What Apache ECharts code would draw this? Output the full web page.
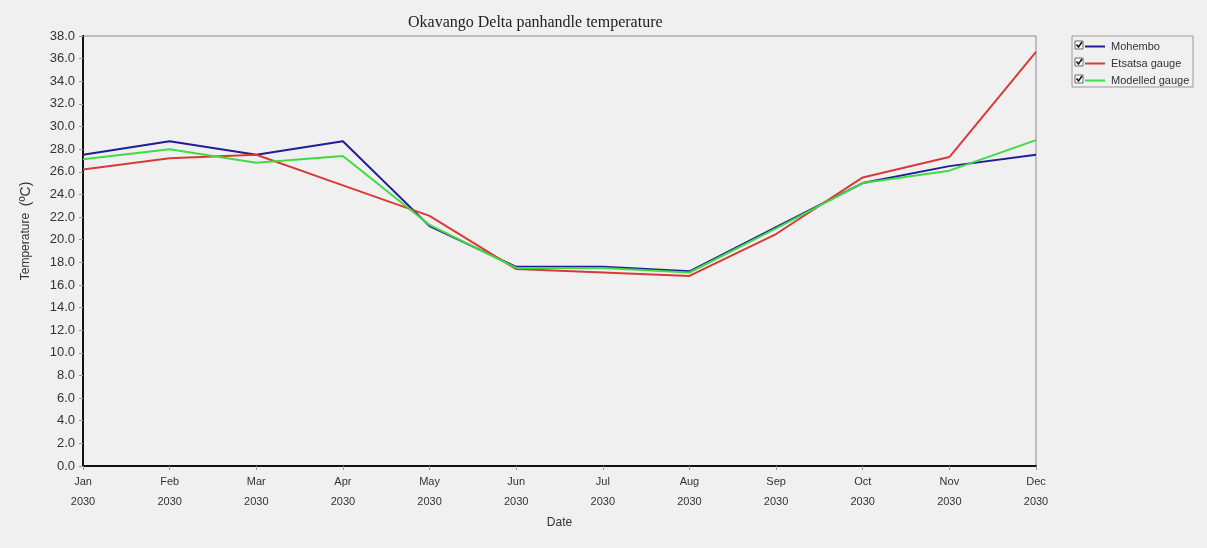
<!DOCTYPE html>
<html>
<head>
<meta charset="utf-8">
<script src="https://cdn.jsdelivr.net/npm/echarts@6/dist/echarts.min.js"></script>
<style>
  html, body { margin: 0; padding: 0; background: #f0f0f0; }
  #chart { width: 1207px; height: 548px; }
</style>
</head>
<body>
<div id="chart"></div>
<script>
// Monthly mean temperatures for the Okavango Delta panhandle, 2030
const months = ['Jan', 'Feb', 'Mar', 'Apr', 'May', 'Jun', 'Jul', 'Aug', 'Sep', 'Oct', 'Nov', 'Dec'];
const year = '2030';
const mohembo  = [27.5, 28.7, 27.5, 28.7, 21.2, 17.6, 17.6, 17.2, 21.1, 25.0, 26.5, 27.5];
const etsatsa  = [26.2, 27.2, 27.5, 24.8, 22.1, 17.4, 17.1, 16.8, 20.5, 25.5, 27.3, 36.6];
const modelled = [27.1, 28.0, 26.8, 27.4, 21.3, 17.5, 17.5, 17.1, 21.0, 25.0, 26.1, 28.8];

const seriesNames = ['Mohembo', 'Etsatsa gauge', 'Modelled gauge'];
const seriesColors = ['#1e1e96', '#d83a3a', '#40dc40'];

const chart = echarts.init(document.getElementById('chart'));

const labelFont = 'Liberation Sans, Arial, sans-serif';

// Small ticked check boxes beside each legend entry
const legendTop = 38;
const rowH = 17;
const checkBoxes = [];
seriesNames.forEach((n, i) => {
  const cy = legendTop + 7 + i * rowH;
  checkBoxes.push({
    type: 'rect',
    shape: { x: 1075, y: cy - 4, width: 8, height: 8 },
    style: { fill: '#ffffff', stroke: '#666', lineWidth: 1 }
  });
  checkBoxes.push({
    type: 'polyline',
    shape: { points: [[1076.5, cy - 0.5], [1078.5, cy + 2], [1082, cy - 3]] },
    style: { stroke: '#111', lineWidth: 1.5, fill: null }
  });
});

chart.setOption({
  backgroundColor: '#f0f0f0',
  animation: false,
  title: {
    text: 'Okavango Delta panhandle temperature',
    left: 403,
    top: 10,
    textStyle: {
      fontFamily: 'Liberation Serif, Times New Roman, serif',
      fontSize: 16,
      fontWeight: 'normal',
      color: '#222'
    }
  },
  grid: {
    left: 83,
    right: 171,
    top: 36,
    bottom: 82,
    show: true,
    backgroundColor: '#f0f0f0',
    borderColor: '#8a8a8a',
    borderWidth: 1
  },
  legend: {
    orient: 'vertical',
    left: 1085,
    top: legendTop,
    padding: 0,
    itemGap: 0,
    itemWidth: 20,
    itemHeight: 2,
    icon: 'rect',
    textStyle: { fontFamily: labelFont, fontSize: 11, color: '#333', lineHeight: rowH, padding: [0, 0, 0, 1] },
    selectedMode: false,
    data: seriesNames
  },
  graphic: [
    {
      type: 'rect',
      shape: { x: 1072, y: 36, width: 121, height: 51 },
      style: { fill: 'none', stroke: '#9a9a9a', lineWidth: 1 }
    }
  ].concat(checkBoxes),
  xAxis: {
    type: 'category',
    boundaryGap: false,
    data: months,
    name: 'Date',
    nameLocation: 'middle',
    nameGap: 47,
    nameTextStyle: { fontFamily: labelFont, fontSize: 12, color: '#333' },
    axisLine: { lineStyle: { color: '#111', width: 2 } },
    axisTick: { show: true, length: 4, lineStyle: { color: '#999' } },
    axisLabel: {
      fontFamily: labelFont,
      fontSize: 11,
      color: '#333',
      lineHeight: 20,
      margin: 6,
      formatter: (v) => v + '\n' + year
    },
    splitLine: { show: false }
  },
  yAxis: {
    type: 'value',
    min: 0,
    max: 38,
    interval: 2,
    name: 'Temperature  {u|(ºC)}',
    nameLocation: 'middle',
    nameGap: 50,
    nameTextStyle: {
      fontFamily: labelFont,
      fontSize: 12,
      color: '#333',
      padding: [0, 0, 0, 40],
      rich: { u: { fontFamily: labelFont, fontSize: 14, color: '#333' } }
    },
    axisLine: { show: true, lineStyle: { color: '#111', width: 2 } },
    axisTick: { show: true, length: 4, lineStyle: { color: '#999' } },
    axisLabel: {
      fontFamily: labelFont,
      fontSize: 13,
      color: '#333',
      margin: 8,
      formatter: (v) => v.toFixed(1)
    },
    splitLine: { show: false }
  },
  series: [mohembo, etsatsa, modelled].map((d, i) => ({
    name: seriesNames[i],
    type: 'line',
    data: d,
    symbol: 'none',
    color: seriesColors[i],
    lineStyle: { width: 2, color: seriesColors[i] }
  }))
});
</script>
</body>
</html>
